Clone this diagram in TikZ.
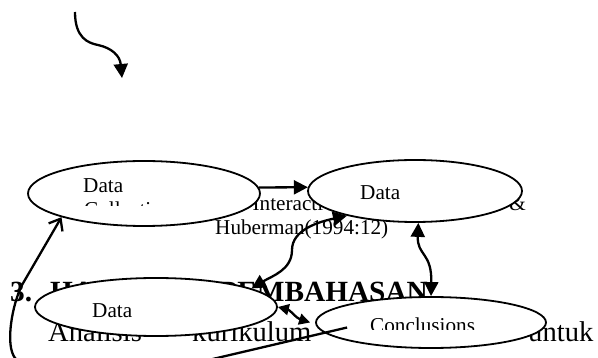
\documentclass[tikz,border=0pt]{standalone}
\usepackage{fontspec}
\setmainfont{Liberation Serif}
\usetikzlibrary{shapes.geometric,arrows.meta}

\begin{document}
\begin{tikzpicture}[x=1pt,y=-1pt,
	blob/.style={ellipse,draw,fill=white,line width=1.8pt,inner sep=0pt},
	lbl/.style={inner sep=0pt,anchor=base west,font=\fontsize{21.2}{24}\selectfont},
	body/.style={inner sep=0pt,anchor=base west,font=\fontsize{28.6}{33}\selectfont},
	headtxt/.style={body,font=\fontsize{29.3}{33}\bfseries\selectfont},
	conn/.style={line width=2.3pt},
	>={Triangle[length=14pt,width=14pt]}]
			\useasboundingbox (0,0) rectangle (598,358);
			\clip (0,0) rectangle (598,358);
			\node[lbl,anchor=base east] (cap1) at (526,211) {Data Analysis Interactive Model from Miles \&};
			\node[lbl] (cap2) at (215,235) {Huberman(1994:12)};
			\node[headtxt] (num) at (10,302) {3.};
			\node[headtxt] (sec) at (50,302) {HASIL DAN PEMBAHASAN};
			\node[body] (w1) at (48,342) {Analisis};
			\node[body] (w2) at (192,342) {kurikulum};
			\node[body] (w3) at (528,342) {untuk};
			\node[blob,minimum width=232pt,minimum height=65pt] (collect) at (144,193.5) {};
			\node[blob,minimum width=214pt,minimum height=62pt] (display) at (415,191) {};
			\node[blob,minimum width=242pt,minimum height=58pt] (reduce) at (156,307) {};
			\node[blob,minimum width=230pt,minimum height=51pt] (concl) at (431,322.5) {};
			\node[lbl] (tcollect) at (83,193) {Data};
			\node[lbl] (tdisplay) at (360,200) {Data};
			\node[lbl] (treduce) at (92,318) {Data};
			\begin{scope}
				\clip (28,160) rectangle (260,205.5);
				\node[lbl] (tcollect2) at (84,217) {Collection};
			\end{scope}
			\begin{scope}
				\clip (300,290) rectangle (560,330);
				\node[lbl] (tconcl) at (370,332.5) {Conclusions};
			\end{scope}
			\coordinate (s0) at (75,12);
			\coordinate (s1) at (122,78);
			\draw[conn,->] (s0) .. controls (75,38) and (88,43) .. (98,45) .. controls (112,48) and (120,56) .. (s1);
			\draw[conn,->] (collect.3) -- (display.178);
			\draw[conn,<->] (reduce.11) .. controls (272,276) and (292,270) .. (292,250) .. controls (292,230) and (318,222) .. (display.200);
			\draw[conn,<->] (display.-84) .. controls (417,256) and (432,252) .. (concl.north);
			\draw[conn,{Triangle[length=11pt,width=11pt]}-{Triangle[length=11pt,width=11pt]}] (reduce.east) .. controls (290,310) and (296,318) .. ([xshift=-5pt]concl.west);
			\draw[conn,-{Straight Barb[length=10pt,width=16pt]}] ([shift={(32,5)}]concl.west) -- (200,362) .. controls (120,385) and (40,385) .. (15,358) .. controls (5,345) and (12,305) .. (22,285) -- (collect.196);
\end{tikzpicture}
\end{document}
